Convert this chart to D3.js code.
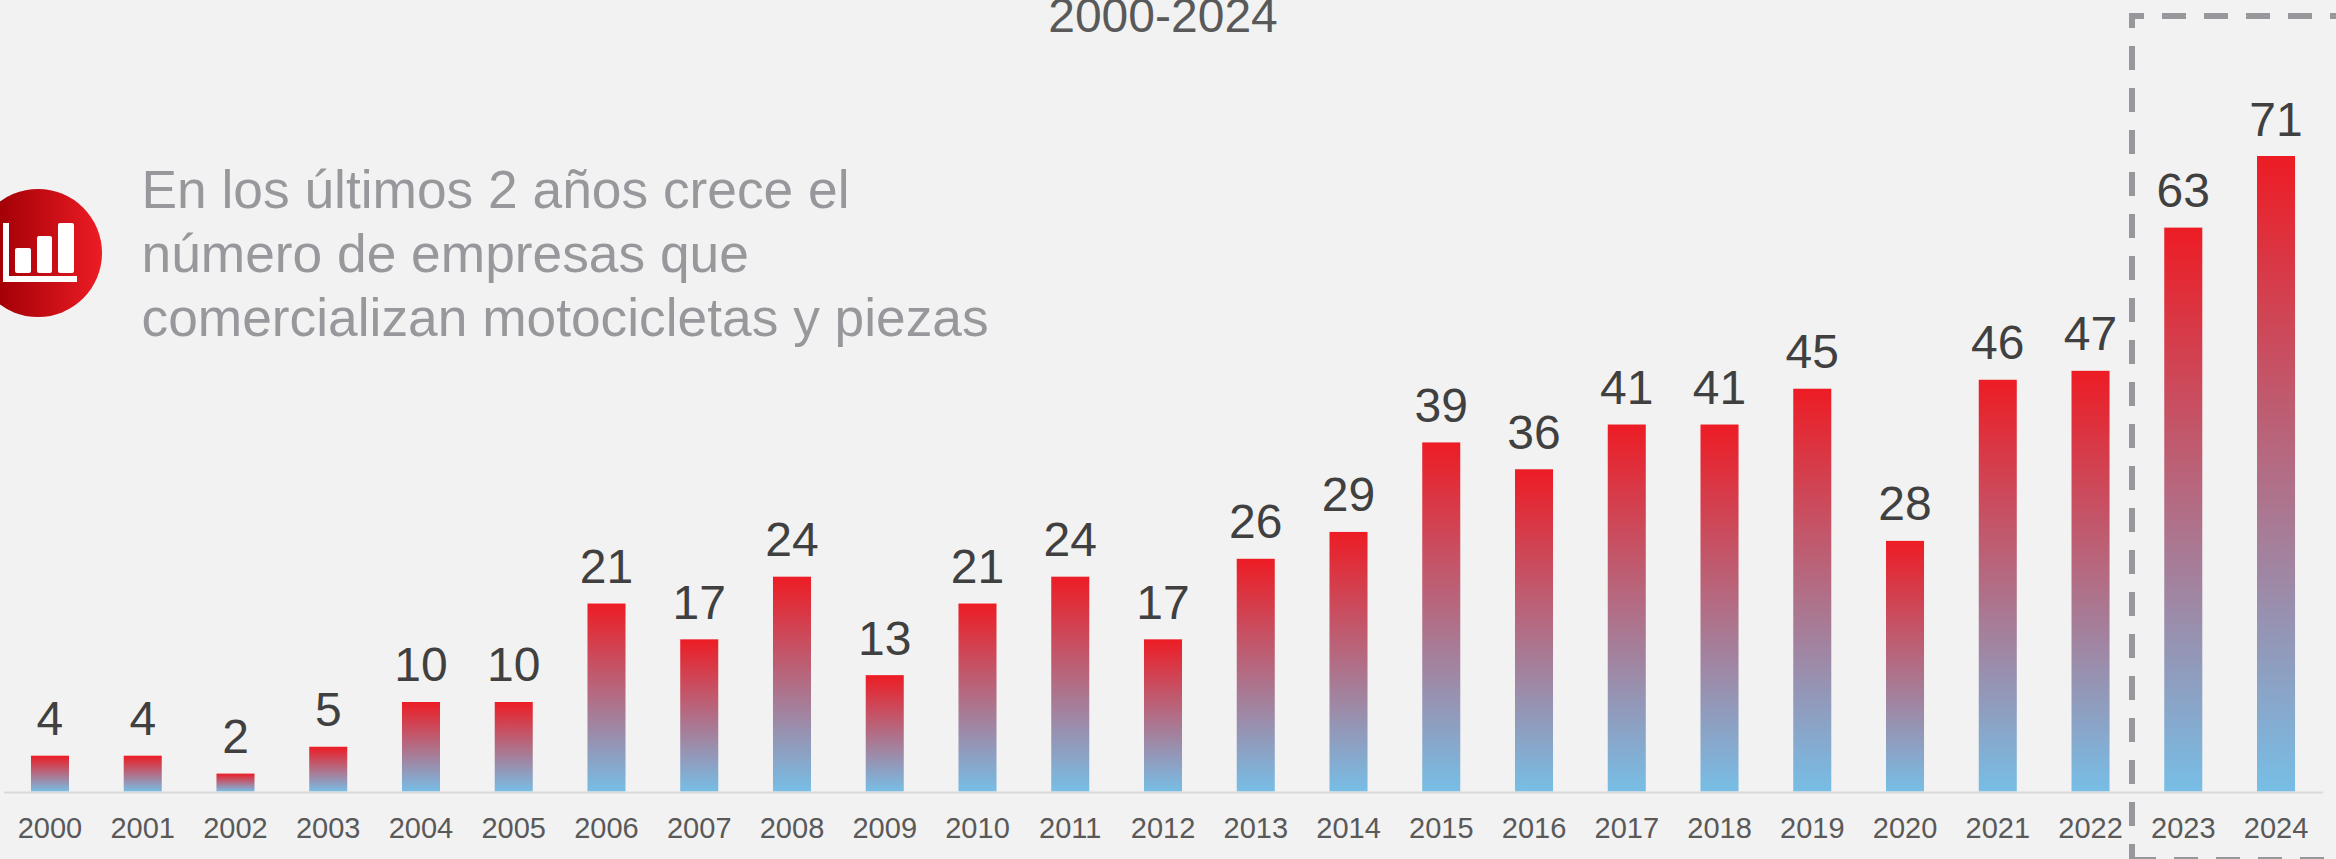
<!DOCTYPE html>
<html lang="es"><head><meta charset="utf-8">
<script src="https://cdn.jsdelivr.net/npm/d3@7"></script>
<style>
html,body{margin:0;padding:0;background:#f2f2f2;overflow:hidden}
svg{display:block}
text{font-family:"Liberation Sans",Arial,sans-serif}
</style></head><body>
<script>
const years=["2000","2001","2002","2003","2004","2005","2006","2007","2008","2009","2010","2011","2012","2013","2014","2015","2016","2017","2018","2019","2020","2021","2022","2023","2024"];
const companies=[4,4,2,5,10,10,21,17,24,13,21,24,17,26,29,39,36,41,41,45,28,46,47,63,71];
const titleText="2000-2024";
const noteLines=["En los últimos 2 años crece el","número de empresas que","comercializan motocicletas y piezas"];
const highlightedYears=["2023","2024"];

const W=2336,H=859,baseY=791.5;
const svg=d3.select("body").append("svg").attr("width",W).attr("height",H).attr("viewBox",[0,0,W,H]);
svg.append("rect").attr("width",W).attr("height",H).attr("fill","#f2f2f2");
const defs=svg.append("defs");
const bg=defs.append("linearGradient").attr("id","barGrad").attr("x1",0).attr("y1",0).attr("x2",0).attr("y2",1);
bg.append("stop").attr("offset",0).attr("stop-color","#ed1c24");
bg.append("stop").attr("offset",1).attr("stop-color","#77bee6");
const cg=defs.append("linearGradient").attr("id","circGrad").attr("x1",0).attr("y1",0).attr("x2",1).attr("y2",0);
cg.append("stop").attr("offset",0.2).attr("stop-color","#a30006");
cg.append("stop").attr("offset",1).attr("stop-color","#ed1c24");

const x=d3.scaleBand().domain(years).range([3.6,2322.4]).paddingInner(0.59).paddingOuter(0.295);
const y=d3.scaleLinear().domain([0,71]).range([baseY,156]);

// title
svg.append("text").attr("x",1163).attr("y",32).attr("text-anchor","middle").attr("font-size",48).attr("fill","#595959").text(titleText);

// bars
svg.append("g").selectAll("rect").data(companies).join("rect")
  .attr("x",(d,i)=>x(years[i])).attr("width",x.bandwidth())
  .attr("y",d=>y(d)).attr("height",d=>baseY-y(d)).attr("fill","url(#barGrad)");

// value labels
svg.append("g").selectAll("text").data(companies).join("text")
  .attr("x",(d,i)=>x(years[i])+x.bandwidth()/2).attr("y",d=>y(d)-20.5)
  .attr("text-anchor","middle").attr("font-size",48).attr("fill","#404040").text(d=>d);

// axis
const axis=svg.append("g").attr("transform",`translate(0,${Math.round(baseY)})`).call(d3.axisBottom(x).tickSize(0).tickPadding(25));
axis.select(".domain").attr("stroke","#d9d9d9").attr("stroke-width",2);
axis.selectAll("text").attr("font-size",29).attr("fill","#595959").attr("font-family",'"Liberation Sans",Arial,sans-serif');

// highlight box
const boxLeft=x(highlightedYears[0])-(x.step()-x.bandwidth())/2-4.9;
const dashes=d3.range(40).map(()=>"24 18").join(" ");
const box=svg.append("g").attr("fill","none").attr("stroke","#98989c").attr("stroke-width",6);
box.append("path").attr("d",`M${boxLeft-3},16H${W+10}`).attr("stroke-dasharray","15 18 "+dashes);
box.append("path").attr("d",`M${boxLeft},13V${H+5}`).attr("stroke-dasharray","15 18 "+dashes);
box.append("path").attr("d",`M${boxLeft-3},860H${W+10}`).attr("stroke-dasharray","27 18 "+dashes);

// note
const note=svg.append("text").attr("font-size",53.3).attr("fill","#98989c");
note.selectAll("tspan").data(noteLines).join("tspan").attr("x",141.5).attr("y",(d,i)=>208+i*64).text(d=>d);

// icon
const icon=svg.append("g").attr("transform","translate(38,253)");
icon.append("circle").attr("r",64).attr("fill","url(#circGrad)");
icon.append("path").attr("fill","#fff").attr("d","M-35,-30H-29V23H39V29H-35Z");
const iconBars=[[-23,-5,16,25],[-1,-17,15,37],[20,-30,16,50]];
icon.selectAll("rect").data(iconBars).join("rect").attr("x",d=>d[0]).attr("y",d=>d[1]).attr("width",d=>d[2]).attr("height",d=>d[3]).attr("rx",2).attr("fill","#fff");
</script>
</body></html>
